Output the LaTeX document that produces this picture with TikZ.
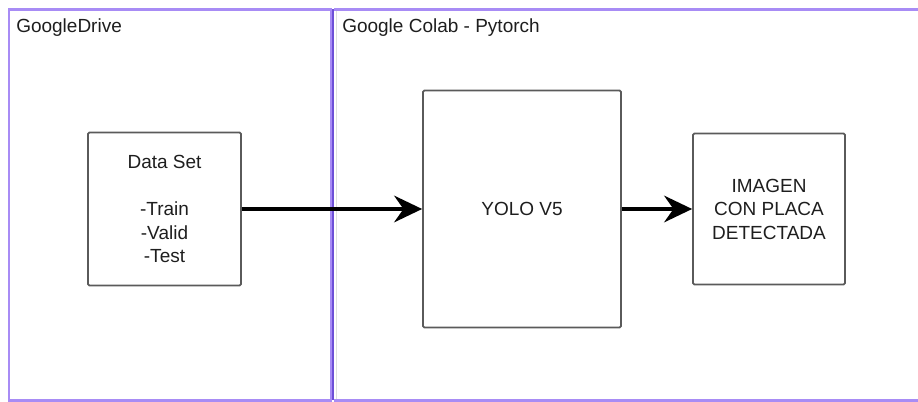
\documentclass[tikz,border=0pt]{standalone}
\usepackage{fontspec}
\setmainfont{Liberation Sans}
\usetikzlibrary{arrows.meta}
\definecolor{lanepurple}{RGB}{168,140,245}
\definecolor{lanedark}{RGB}{110,80,215}
\definecolor{boxgray}{RGB}{90,90,90}
\definecolor{textgray}{RGB}{30,30,30}

\begin{document}
\begin{tikzpicture}[x=0.75pt, y=-0.75pt,
    lane/.style={draw=lanepurple, line width=1.6pt},
    block/.style={draw=boxgray, line width=1.3pt, rounded corners=1pt, align=center, text=textgray, inner sep=0pt, font=\fontsize{14.25pt}{17.6pt}\selectfont},
    lanetitle/.style={anchor=base west, inner sep=0pt, text=textgray, font=\fontsize{14.25pt}{17.6pt}\selectfont},
    flow/.style={line width=2.6pt, -{Stealth[length=21pt, width=20pt, inset=7pt]}}]
  \useasboundingbox (0,0) rectangle (918,402);
  \draw[lane] (9,9.5) rectangle (331,400.5);
  \draw[lane] (334,9.5) -- (930,9.5) (334,400.5) -- (930,400.5);
  \draw[black!12, line width=1.2pt] (336.5,11) -- (336.5,399);
  \draw[lanedark, line width=1.8pt] (333,9.5) -- (333,400.5);
  \node[lanetitle] (drive) at (16,33) {GoogleDrive};
  \node[lanetitle] (colab) at (342,33) {Google Colab - Pytorch};
  \node[block, minimum width=114.75pt, minimum height=114.75pt] (dataset) at (164.5,209) {Data Set\\[17.6pt]-Train\\-Valid\\-Test};
  \node[block, minimum width=148.5pt, minimum height=177.75pt] (yolo) at (522,209) {YOLO V5};
  \node[block, minimum width=114pt, minimum height=113.25pt] (result) at (769,209) {IMAGEN\\CON PLACA\\DETECTADA};
  \draw[flow] (dataset) -- (yolo);
  \draw[flow] (yolo) -- (result);
\end{tikzpicture}
\end{document}
